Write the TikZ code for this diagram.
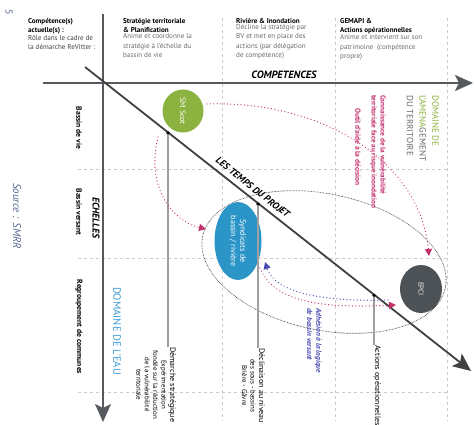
\documentclass[tikz,border=0pt]{standalone}
\usepackage{fontspec}
\setmainfont{PT Sans}
\usepackage{tikz}
\usetikzlibrary{arrows.meta, positioning, shapes.geometric}
\definecolor{scotgreen}{HTML}{8CB23F}
\definecolor{syndblue}{HTML}{2B95C8}
\definecolor{epcigray}{HTML}{4D5257}
\definecolor{axisgray}{HTML}{56595D}
\definecolor{linkpink}{HTML}{C2306B}
\definecolor{linkblue}{HTML}{4A4AB2}
\definecolor{eaublue}{HTML}{3C9BD6}
\definecolor{descgray}{HTML}{6A6A6A}
\definecolor{sourcecol}{HTML}{56688F}

\begin{document}
\begin{tikzpicture}[x=1pt,y=-1pt,
    hdrtitle/.style={anchor=north west, inner sep=0pt, align=left,
                     font=\fontsize{7.1}{9.5}\selectfont\bfseries},
    hdrdesc/.style={anchor=north west, inner sep=0pt, align=left,
                    font=\fontsize{7.1}{9.5}\selectfont, text=descgray},
    axisline/.style={line width=1.8pt, draw=axisgray},
    axisarr/.style={-{Stealth[length=18pt,width=16pt,inset=4pt]}},
    gridline/.style={draw=gray!40, dash pattern=on 3pt off 3pt, line width=0.6pt},
    sidelbl/.style={rotate=-90, inner sep=0pt, font=\fontsize{7.6}{8}\selectfont\bfseries},
    acteur/.style={ellipse, rotate=-90, inner sep=0pt, text=white, align=center,
                   font=\fontsize{8}{9.5}\selectfont},
    jalon/.style={circle, fill=black, inner sep=0pt, minimum size=3.6pt},
    tline/.style={draw=gray!75, line width=1.1pt},
    btext/.style={rotate=-90, anchor=north west, inner sep=0pt, align=center,
                  font=\fontsize{6.9}{8.4}\selectfont},
    bfirst/.style={font=\fontsize{8}{8.4}\selectfont},
    linkpk/.style={draw=linkpink, line width=1.3pt, line cap=round,
                   dash pattern=on 0.01pt off 3.4pt,
                   -{Triangle[length=7pt,width=7pt,fill=linkpink]}},
    linkbl/.style={draw=linkblue, line width=1.3pt, line cap=round,
                   dash pattern=on 0.01pt off 3.4pt,
                   -{Triangle[length=7pt,width=7pt,fill=linkblue]}},
]
\useasboundingbox (0,0) rectangle (474,425);
%% -- Grille --
\foreach \x in {222,335,447}{
  \draw[gridline] (\x,18) -- (\x,421);
}
\foreach \y in {169,258,392}{
  \draw[gridline] (78,\y) -- (447,\y);
}
%% -- Perimetre des acteurs de bassin --
\draw[draw=black!80, line width=0.7pt, dash pattern=on 0.6pt off 0.9pt,
      rotate around={-12:(324,262)}] (324,262) ellipse [x radius=124, y radius=68];
%% -- Axes --
\coordinate (hstart) at (43,83);
\coordinate (hend) at (473,83);
\coordinate (vstart) at (103,14);
\coordinate (vend) at (103,422);
\coordinate (dstart) at (85,67);
\coordinate (dend) at (471,371);
\draw[axisline, axisarr] (hstart) -- (hend);
\draw[axisline, axisarr] (vstart) -- (vend);
\draw[axisline, draw=black!75, axisarr] (dstart) -- (dend)
  node[pos=0.42, sloped, above=1.5pt, font=\fontsize{9.6}{10}\selectfont\bfseries\itshape, text=black]
  {LES TEMPS DU PROJET};
%% -- En-tete --
\node[hdrtitle] (c1t) at (28,18) {Compétence(s)\\actuelle(s) :};
\node[hdrdesc, text=black!75, below=0.3pt of c1t.south west, anchor=north west] (c1d)
  {Rôle dans le cadre de\\la démarche ReVitter :};
\node[hdrtitle] (c2t) at (123,18) {Stratégie territoriale\\\& Planification};
\node[hdrdesc, below=0.3pt of c2t.south west, anchor=north west] (c2d)
  {Anime et coordonne la\\stratégie à l'échelle du\\bassin de vie};
\node[hdrtitle] (c3t) at (236,18) {Rivière \& Inondation};
\node[hdrdesc, below=0.3pt of c3t.south west, anchor=north west] (c3d)
  {Décline la stratégie par\\BV et met en place des\\actions (par délégation\\de compétence)};
\node[hdrtitle] (c4t) at (340,18) {GEMAPI \&\\Actions opérationnelles};
\node[hdrdesc, below=0.3pt of c4t.south west, anchor=north west] (c4d)
  {Anime et intervient sur son\\patrimoine~ (compétence\\propre)};
\node[font=\fontsize{10.5}{11}\selectfont\bfseries\itshape] (compet) at (284,75) {COMPETENCES};
\node[rotate=-90, font=\fontsize{10}{11}\selectfont, text=sourcecol] (page) at (9,12) {5};
%% -- Echelles --
\node[rotate=-90, font=\fontsize{9.8}{10}\selectfont\bfseries\itshape] (echel) at (96,218) {ECHELLES};
\node[sidelbl] (bvie) at (79,128) {Bassin de vie};
\node[sidelbl] (bvers) at (79,212) {Bassin versant};
\node[sidelbl] (regr) at (79,327) {Regroupement de communes};
\node[rotate=-90, font=\fontsize{11}{12}\selectfont\itshape, text=sourcecol] (src) at (17,216) {Source : SMRR};
\node[rotate=-90, font=\fontsize{10.6}{12}\selectfont, text=eaublue] (eau) at (117,331) {DOMAINE DE L'EAU};
\node[rotate=-90, anchor=north west, inner sep=0pt, align=left,
      font=\fontsize{9}{12.8}\selectfont, text=descgray] (amgt) at (439,95)
  {\textcolor{scotgreen}{DOMAINE DE}\\\textcolor{scotgreen}{L'AMENA}GEMENT\\DU TERRITOIRE};
%% -- Acteurs --
\node[acteur, fill=scotgreen, minimum width=43pt, minimum height=41pt] (scot) at (183,111) {SM Scot};
\node[acteur, fill=syndblue, minimum width=78pt, minimum height=47pt] (synd) at (238,241)
  {Syndicats de\\bassin / rivière};
\node[acteur, fill=epcigray, minimum width=48pt, minimum height=42pt,
      font=\fontsize{7}{8}\selectfont] (epci) at (421,289) {EPCI};
%% -- Jalons du projet --
\node[jalon] (p1) at (168,133) {};
\node[jalon] (p2) at (258,204) {};
\node[jalon] (p3) at (374,295.4) {};
\node[btext] (strat) at (176,347)
  {{\fontsize{8}{8.4}\selectfont Démarche stratégique}\\Expérimentation\\fondée sur la réduction\\de la vulnérabilité\\territoriale};
\node[btext] (decl) at (265,348)
  {{\fontsize{8}{8.4}\selectfont Déclinaison au niveau}\\des sous - bassins\\Brière - Gâvre};
\node[btext, bfirst] (actop) at (381,345) {Actions opérationnelles};
\draw[tline] (p1) -- (p1 |- strat.west);
\draw[tline] (p2) -- (p2 |- decl.west);
\draw[tline] (p3) -- (p3 |- actop.west);
%% -- Liens --
\coordinate (k1a) at (207,104);
\coordinate (k1b) at (429,256);
\coordinate (k2a) at (158,137);
\coordinate (k2b) at (206,229);
\coordinate (k3a) at (260,268);
\coordinate (k3b) at (396,305);
\coordinate (k4a) at (388,300);
\coordinate (k4b) at (265,262);
\draw[linkpk] (k1a) .. controls (320,100) and (420,160) .. (k1b);
\draw[linkpk] (k2a) .. controls (145,190) and (175,222) .. (k2b);
\draw[linkpk] (k3a) .. controls (275,305) and (330,308) .. (k3b);
\draw[linkbl] (k4a) .. controls (320,302) and (275,292) .. (k4b);
\node[rotate=-90, anchor=north west, inner sep=0pt, align=left, text=linkpink,
      font=\fontsize{7.2}{9}\selectfont\bfseries] (connais) at (386,95)
  {Connaissance de la vulnérabilité\\territoriale face au risque inondation};
\node[rotate=-90, anchor=north west, inner sep=0pt, text=linkpink,
      font=\fontsize{7.4}{9}\selectfont\bfseries] (outil) at (361,108)
  {Outil d'aide à la décision};
\node[rotate=-90, anchor=north west, inner sep=0pt, align=left, text=linkblue,
      font=\fontsize{7.4}{9.4}\selectfont\bfseries\itshape] (adh) at (322,308)
  {Adhésion à la logique\\de bassin versant};
\end{tikzpicture}
\end{document}
